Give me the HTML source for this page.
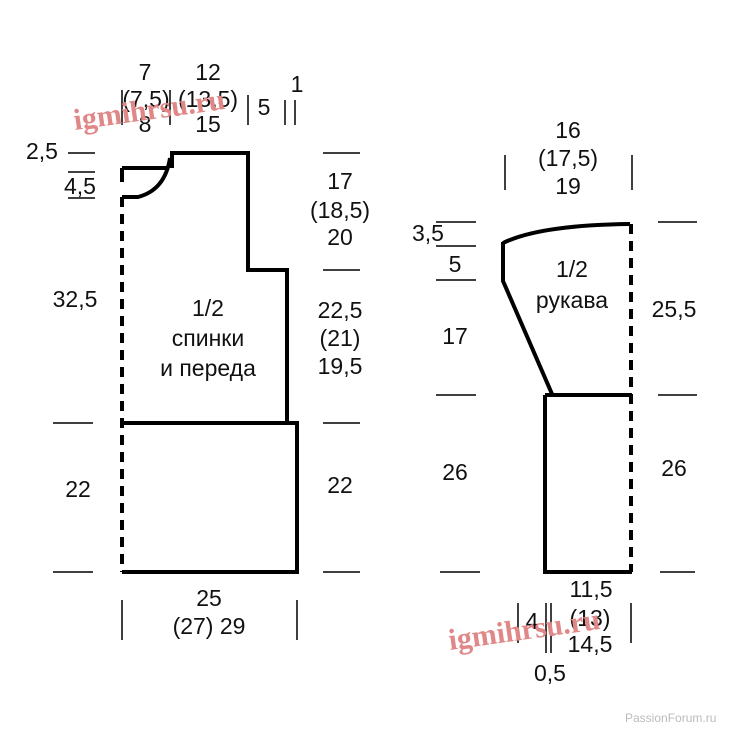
<!DOCTYPE html>
<html><head><meta charset="utf-8"><style>
body{margin:0;background:#fff}
svg text{font-family:"Liberation Sans",Arial,sans-serif;font-size:23px;fill:#111}
</style></head><body>
<svg width="730" height="730" viewBox="0 0 730 730" xmlns="http://www.w3.org/2000/svg">
<g stroke="#000" stroke-width="4" fill="none">
<path d="M122 168 H167 M122 197 H138 Q165 190 170 158 M172 168 V153 H248 V270 H287 V423"/>
<path d="M122 423 H297 V572 H122"/>
<path d="M122 168 V182"/>
<path d="M122 197 V572" stroke-dasharray="10 7"/>
<path d="M503 243 Q540 225 630 224"/>
<path d="M631 224 V572" stroke-dasharray="10 7"/>
<path d="M503 242 V281 L552 394 M545 395 H632 M545 395 V572 H632"/>
</g>
<g stroke="#000" stroke-width="1.5">
<path d="M68 153 H95 M68 172 H95 M68 198 H95"/>
<path d="M122 90 V125 M170 90 V125 M248 95 V125 M285 100 V125 M295 100 V125"/>
<path d="M323 153 H360 M323 270 H360 M53 423 H93 M323 423 H360 M53 572 H93 M323 572 H360"/>
<path d="M122 600 V640 M297 600 V640"/>
<path d="M505 155 V190 M632 155 V190"/>
<path d="M436 222 H476 M436 246 H476 M436 280 H476 M436 395 H476 M658 222 H697 M658 395 H697 M440 572 H480 M660 572 H695"/>
<path d="M518 603 V643 M546 603 V653 M551 603 V653 M631 603 V643"/>
</g>
<g text-anchor="middle">
<text x="145" y="80">7</text><text x="146" y="107">(7,5)</text><text x="145" y="132">8</text>
<text x="208" y="80">12</text><text x="208" y="107">(13,5)</text><text x="208" y="132">15</text>
<text x="264" y="115">5</text><text x="297" y="92">1</text>
<text x="42" y="159">2,5</text><text x="80" y="194">4,5</text>
<text x="75" y="307">32,5</text><text x="78" y="497">22</text>
<text x="340" y="189">17</text><text x="340" y="218">(18,5)</text><text x="340" y="245">20</text>
<text x="340" y="318">22,5</text><text x="340" y="346">(21)</text><text x="340" y="374">19,5</text>
<text x="340" y="493">22</text>
<text x="209" y="606">25</text><text x="209" y="634">(27) 29</text>
<text x="208" y="316" font-size="24">1/2</text><text x="208" y="346" font-size="24">спинки</text><text x="208" y="376" font-size="24">и переда</text>
<text x="568" y="138">16</text><text x="568" y="166">(17,5)</text><text x="568" y="194">19</text>
<text x="428" y="241">3,5</text><text x="455" y="272">5</text><text x="455" y="344">17</text><text x="455" y="480">26</text>
<text x="674" y="317">25,5</text><text x="674" y="476">26</text>
<text x="572" y="277" font-size="25">1/2</text><text x="572" y="308" font-size="25">рукава</text>
<text x="591" y="597">11,5</text><text x="590" y="626">(13)</text><text x="590" y="652">14,5</text>
<text x="532" y="629">4</text><text x="550" y="681">0,5</text>
</g>
<text x="75" y="130" transform="rotate(-8 75 130)" style="font-family:'Liberation Serif',serif;font-weight:bold;font-size:30px;fill:#e08888">igmihrsu.ru</text>
<text x="450" y="650" transform="rotate(-8 450 650)" style="font-family:'Liberation Serif',serif;font-weight:bold;font-size:30px;fill:#e08888">igmihrsu.ru</text>
<text x="625" y="722" style="font-size:12px;fill:#bbb">PassionForum.ru</text>
</svg>
</body></html>
